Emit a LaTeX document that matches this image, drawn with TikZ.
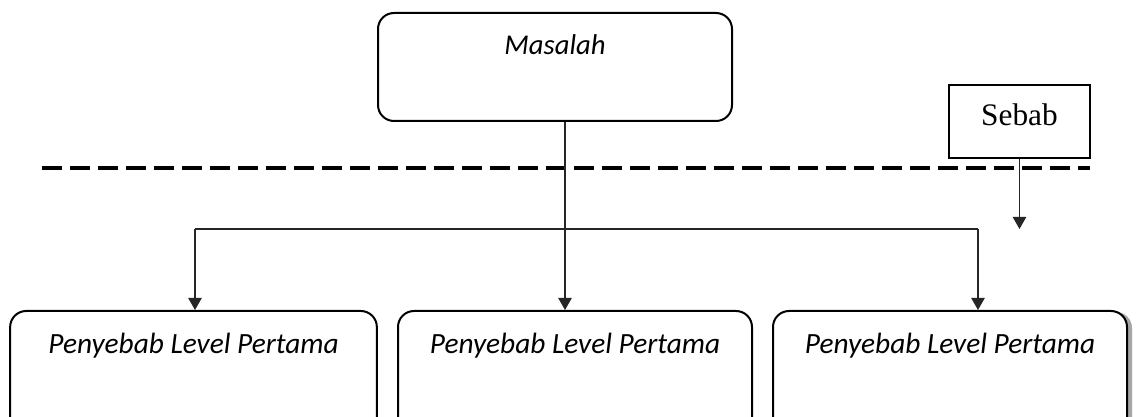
\documentclass[tikz,border=0pt]{standalone}
\usepackage{fontspec}
\setmainfont{Carlito}
\newfontfamily\serifface{Liberation Serif}
\usetikzlibrary{arrows.meta}
\tikzset{
  box/.style={draw=black, line width=1.5pt, rounded corners=12pt, fill=white, inner xsep=0pt, inner ysep=0pt,
    font=\fontsize{22}{26}\selectfont\itshape},
  conn/.style={draw=black!85, line width=1pt},
  arr/.style={conn, -{Triangle[width=10pt,length=9pt]}},
  cut/.style={draw=black, line width=3pt, dash pattern=on 15pt off 6pt},
  sbox/.style={draw=black, line width=1.2pt, fill=white, minimum width=105.75pt, inner sep=0pt,
    text height=30.75pt, text depth=24pt, font=\serifface\fontsize{23.5}{28}\selectfont}
}
\begin{document}
\begin{tikzpicture}[x=0.75pt, y=-0.75pt]
\clip (0,0) rectangle (1140,417);
\fill[white] (0,0) rectangle (1140,417);
% top problem box
\node[box, anchor=north, minimum width=265.5pt, text height=31pt, text depth=50pt, font=\fontsize{21.5}{26}\selectfont\itshape] (mas) at (555,12) {Masalah};
% first-level boxes
\node[box, anchor=north, minimum width=275pt, text height=32pt, text depth=60pt] (b1) at (193.5,310) {Penyebab Level Pertama};
\node[box, anchor=north, minimum width=265.5pt, text height=32pt, text depth=60pt] (b2) at (575,310) {Penyebab Level Pertama};
\fill[black!35, rounded corners=12pt] (775,312) rectangle (1132,450);
\node[box, anchor=north, minimum width=265.5pt, text height=32pt, text depth=60pt] (b3) at (950,310) {Penyebab Level Pertama};
% cause legend box
\node[sbox, anchor=north] (seb) at (1019.5,84) {Sebab};
% dashed cut line
\coordinate (dl) at (42,168);
\coordinate (dr) at (1090,168);
\draw[cut] (dl) -- (dr);
% connectors
\coordinate (spine) at (565,0);
\coordinate (hl) at (195,229);
\coordinate (hr) at (978,229);
\coordinate (stip) at (1019.5,229);
\draw[arr] (mas.south -| spine) -- (b2.north -| spine);
\draw[conn] (hl) -- (hr);
\draw[arr] (hl) -- (b1.north -| hl);
\draw[arr] (hr) -- (b3.north -| hr);
\draw[arr] (seb.south) -- (stip);
\end{tikzpicture}
\end{document}
